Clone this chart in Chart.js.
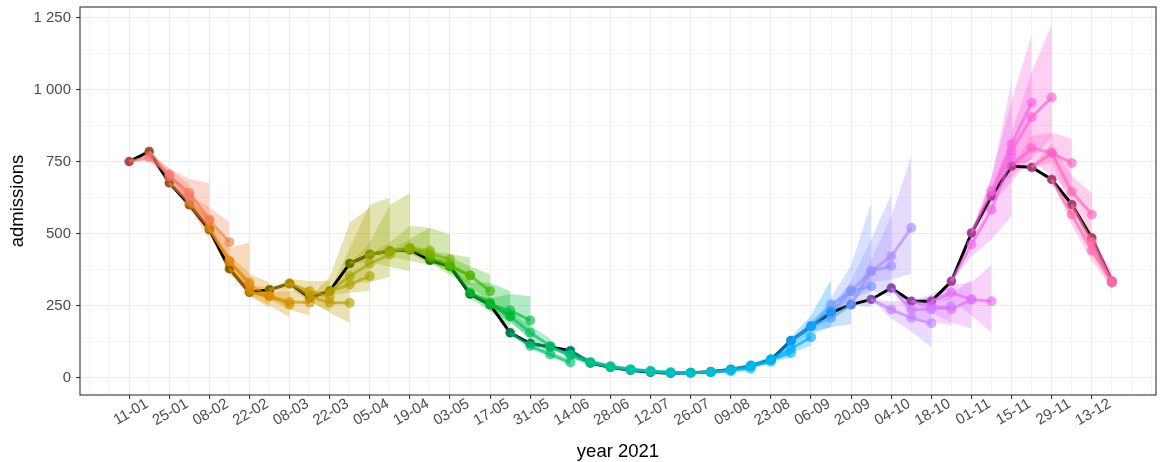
<!DOCTYPE html>
<html>
<head>
<meta charset="utf-8">
<title>admissions 2021</title>
<style>
*{padding:0;margin:0;box-sizing:border-box}
body{background:#ffffff}
.wrapper{width:1161px;height:462px;position:relative}
</style>
</head>
<body>
<div class="wrapper"><canvas id="myChart" width="1161" height="462"></canvas></div>
<script src="https://cdn.jsdelivr.net/npm/chart.js"></script>
<script>
// weekly admissions, week 0 = 11-01-2021
const observed = [750, 785, 676, 600, 514, 378, 296, 305, 326, 277,
  300, 396, 427, 439, 444, 407, 386, 290, 253, 155,
  118, 106, 93, 50, 35, 25, 18, 15, 16, 20,
  28, 40, 62, 128, 178, 225, 253, 271, 311, 265,
  265, 334, 502, 630, 734, 730, 688, 601, 485, 334];

const xTickLabels = ['11-01', '25-01', '08-02', '22-02', '08-03', '22-03', '05-04', '19-04', '03-05',
  '17-05', '31-05', '14-06', '28-06', '12-07', '26-07', '09-08', '23-08', '06-09', '20-09',
  '04-10', '18-10', '01-11', '15-11', '29-11', '13-12'];
const yTicks = [0, 125, 250, 375, 500, 625, 750, 875, 1000, 1125, 1250];

// forecasts made at each week (index = origin week), 1..3 weeks ahead
const fcMid = [
  [765, 705, 630], [698, 642, 549], [610, 545, 470], [520, 404, 330], [404, 320, 282],
  [300, 282, 253], [282, 262, 260], [326, 300, 280], [282, 260, 259], [300, 323, 352],
  [352, 396, 427], [427, 439, 444], [439, 450, 440], [450, 430, 410], [420, 390, 354],
  [386, 354, 300], [296, 260, 213], [253, 233, 198], [213, 155, 109], [109, 80, 52],
  [106, 76, 51], [80, 53, 38], [53, 38, 28], [38, 28, 22], [28, 22, 18],
  [21, 17, 16], [16, 16, 18], [16, 18, 22], [19, 24, 30], [28, 40, 55],
  [42, 62, 85], [62, 100, 140], [126, 178, 230], [178, 207, 253], [253, 300, 317],
  [300, 369, 387], [369, 421, 520], [236, 207, 188], [236, 236, 248], [248, 236, 271],
  [295, 271, 265], [462, 583, 763], [648, 811, 954], [786, 904, 973], [797, 780, 745],
  [780, 645, 566], [566, 440, 334], [470, 330], [330], []];
const fcLow = [
  [750, 680, 600], [670, 590, 480], [585, 500, 410], [495, 360, 280], [385, 285, 240],
  [285, 250, 208], [270, 235, 215], [310, 265, 230], [265, 225, 190], [285, 295, 300],
  [330, 330, 350], [400, 385, 369], [420, 405, 390], [430, 395, 370], [400, 355, 315],
  [365, 320, 258], [275, 230, 175], [235, 190, 138], [195, 130, 85], [100, 70, 42],
  [98, 66, 42], [72, 45, 30], [47, 32, 22], [33, 23, 17], [24, 18, 14],
  [18, 14, 12], [13, 13, 13], [13, 14, 16], [16, 19, 23], [24, 33, 44],
  [36, 52, 68], [54, 84, 110], [112, 150, 175], [160, 175, 185], [230, 250, 245],
  [270, 300, 280], [330, 340, 360], [205, 160, 104], [210, 195, 180], [225, 190, 170],
  [270, 215, 156], [420, 480, 560], [600, 680, 760], [700, 760, 833], [755, 700, 640],
  [745, 590, 500], [530, 405, 310], [440, 305], [315], []];
const fcHigh = [
  [780, 725, 670], [725, 690, 675], [635, 590, 540], [545, 450, 470], [425, 360, 330],
  [318, 315, 310], [296, 300, 315], [342, 335, 335], [300, 300, 330], [350, 538, 590],
  [450, 600, 625], [470, 600, 640], [470, 526, 520], [480, 520, 497], [440, 430, 417],
  [417, 386, 358], [330, 328, 300], [275, 290, 282], [230, 180, 135], [118, 92, 64],
  [115, 88, 62], [88, 62, 48], [60, 45, 35], [43, 33, 28], [32, 27, 23],
  [24, 21, 20], [19, 20, 23], [19, 22, 28], [23, 30, 38], [33, 48, 68],
  [48, 74, 104], [70, 118, 172], [140, 215, 340], [198, 250, 330], [278, 390, 606],
  [335, 480, 635], [410, 560, 769], [265, 265, 280], [265, 290, 320], [270, 290, 340],
  [320, 330, 392], [505, 690, 1029], [700, 960, 1190], [850, 1060, 1226], [840, 850, 830],
  [815, 700, 640], [600, 480, 370], [500, 355], [345], []];

// ggplot-like hue palette, hcl(h, c = 100, l = 65)
function hueColor(h, alpha) {
  const c = 100, l = 65;
  const hr = h * Math.PI / 180;
  const u = c * Math.cos(hr), v = c * Math.sin(hr);
  const xn = 95.047, yn = 100, zn = 108.883;
  const un = 4 * xn / (xn + 15 * yn + 3 * zn);
  const vn = 9 * yn / (xn + 15 * yn + 3 * zn);
  const y = yn * Math.pow((l + 16) / 116, 3);
  const up = u / (13 * l) + un, vp = v / (13 * l) + vn;
  const x = y * 9 * up / (4 * vp);
  const z = y * (12 - 3 * up - 20 * vp) / (4 * vp);
  const lin = [
    3.240479 * x - 1.53715 * y - 0.498535 * z,
    -0.969256 * x + 1.875992 * y + 0.041556 * z,
    0.055648 * x - 0.204043 * y + 1.057311 * z,
  ].map(t => t / 100);
  const rgb = lin.map(t => {
    t = t <= 0.0031308 ? 12.92 * t : 1.055 * Math.pow(t, 1 / 2.4) - 0.055;
    return Math.round(255 * Math.min(1, Math.max(0, t)));
  });
  return `rgba(${rgb[0]},${rgb[1]},${rgb[2]},${alpha})`;
}

const datasets = [];
const nOrigins = observed.length;
for (let o = 0; o < nOrigins; o++) {
  const hue = 15 + 360 * o / nOrigins;
  const mid = [{ x: o, y: observed[o] }];
  const lo = [{ x: o, y: observed[o] }];
  const hi = [{ x: o, y: observed[o] }];
  fcMid[o].forEach((val, k) => {
    mid.push({ x: o + k + 1, y: val });
    lo.push({ x: o + k + 1, y: fcLow[o][k] });
    hi.push({ x: o + k + 1, y: fcHigh[o][k] });
  });
  datasets.push({ data: hi, borderWidth: 0, borderColor: 'rgba(0,0,0,0)', pointRadius: 0, fill: false, order: 3 });
  datasets.push({ data: lo, borderWidth: 0, borderColor: 'rgba(0,0,0,0)', pointRadius: 0, fill: '-1', backgroundColor: hueColor(hue, 0.3), order: 3 });
  datasets.push({
    data: mid,
    borderColor: hueColor(hue, 0.65),
    borderWidth: 3,
    pointRadius: 5,
    pointBorderWidth: 0,
    pointBackgroundColor: hueColor(hue, 0.65),
    fill: false,
    order: 1,
  });
}
datasets.push({
  data: observed.map((val, i) => ({ x: i, y: val })),
  borderColor: '#000000',
  borderWidth: 3,
  pointRadius: 4.5,
  pointBorderWidth: 0,
  pointBackgroundColor: '#000000',
  fill: false,
  order: 2,
});

const isMajorX = (v) => v >= 0 && v <= 48 && v % 2 === 0;
const fmtY = (v) => v >= 1000 ? Math.floor(v / 1000) + ' ' + String(v % 1000).padStart(3, '0') : String(v);
const noPadding = (s) => { s.paddingTop = 0; s.paddingBottom = 0; s.paddingLeft = 0; s.paddingRight = 0; };

const panelBorder = {
  id: 'panelBorder',
  afterDraw(chart) {
    const { ctx, chartArea: a } = chart;
    ctx.save();
    ctx.strokeStyle = '#333333';
    ctx.lineWidth = 1.1;
    ctx.strokeRect(a.left, a.top, a.right - a.left, a.bottom - a.top);
    ctx.restore();
  },
};

Chart.defaults.font.family = '"Liberation Sans", Arial, sans-serif';

const ctx = document.getElementById('myChart').getContext('2d');
const myChart = new Chart(ctx, {
  type: 'line',
  data: { datasets: datasets },
  plugins: [panelBorder],
  options: {
    responsive: false,
    animation: false,
    events: [],
    layout: { padding: { top: 7, right: 1, left: 0, bottom: 0 } },
    elements: { line: { tension: 0 } },
    plugins: { legend: { display: false }, tooltip: { enabled: false } },
    scales: {
      x: {
        type: 'linear',
        min: -2.45,
        max: 51.2,
        afterBuildTicks: (s) => {
          const t = [];
          for (let w = -2; w <= 51; w++) t.push({ value: w });
          s.ticks = t;
        },
        afterFit: (s) => { s.height = 67; noPadding(s); },
        border: { display: false },
        grid: {
          color: '#EBEBEB',
          lineWidth: (c) => isMajorX(c.tick.value) ? 1.1 : 0.55,
          tickLength: 4,
          tickWidth: 1.1,
          tickColor: (c) => isMajorX(c.tick.value) ? '#333333' : 'rgba(0,0,0,0)',
        },
        ticks: {
          autoSkip: false,
          minRotation: 30,
          maxRotation: 30,
          padding: -4,
          labelOffset: 18,
          color: '#4D4D4D',
          font: { size: 15 },
          callback: (v) => isMajorX(v) ? xTickLabels[v / 2] : '',
        },
        title: { display: true, text: 'year 2021', color: '#000000', font: { size: 18.5 }, padding: { top: 0, bottom: -1 } },
      },
      y: {
        min: -61,
        max: 1287,
        afterBuildTicks: (s) => { s.ticks = yTicks.map(v => ({ value: v })); },
        afterFit: (s) => { s.width = 80; noPadding(s); },
        border: { display: false },
        grid: {
          color: '#EBEBEB',
          lineWidth: (c) => c.tick.value % 250 === 0 ? 1.1 : 0.55,
          tickLength: 4,
          tickWidth: 1.1,
          tickColor: (c) => c.tick.value % 250 === 0 ? '#333333' : 'rgba(0,0,0,0)',
        },
        ticks: {
          padding: 5,
          color: '#4D4D4D',
          font: { size: 15 },
          callback: (v) => v % 250 === 0 ? fmtY(v) : '',
        },
        title: { display: true, text: 'admissions', color: '#000000', font: { size: 18.5 }, padding: { top: 7, bottom: 0 } },
      },
    },
  },
});
</script>
</body>
</html>
